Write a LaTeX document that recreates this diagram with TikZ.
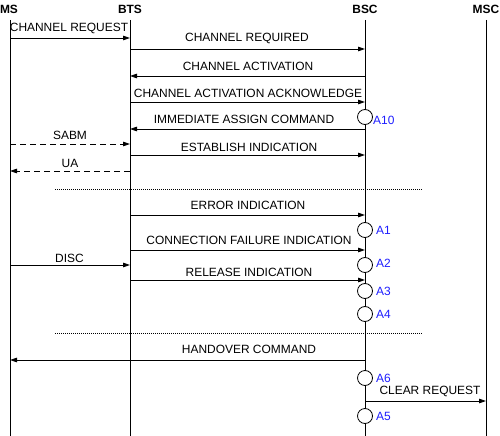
\documentclass[tikz,border=0pt]{standalone}
\usepackage{fontspec}
\setmainfont{Liberation Sans}
\usetikzlibrary{arrows.meta}
\definecolor{alabel}{RGB}{30,30,255}
\tikzset{
  lifeline/.style={line width=0.8bp, black},
  msg/.style={line width=0.8bp, black, -{Triangle[length=7bp,width=4.5bp]}},
  dmsg/.style={msg, dash pattern=on 6bp off 4bp},
  sep/.style={line width=0.6bp, dash pattern=on 1bp off 1bp},
  lbl/.style={anchor=base, inner sep=0pt, font=\fontsize{12}{14}\selectfont},
  head/.style={anchor=base, inner sep=0pt, font=\fontsize{12}{14}\selectfont\bfseries},
  stcircle/.style={circle, draw, line width=0.8bp, fill=white, minimum size=15bp, inner sep=0pt},
  alab/.style={anchor=base west, inner sep=0pt, text=alabel, font=\fontsize{12}{14}\selectfont},
}
\begin{document}
\begin{tikzpicture}[x=1bp,y=-1bp]
\useasboundingbox (0,0) rectangle (500,436);
% headers
\node[head] (hms)  at (9,13.3)   {MS};
\node[head] (hbts) at (130,13.3) {BTS};
\node[head] (hbsc) at (365,13.3) {BSC};
\node[head] (hmsc) at (486,13.3) {MSC};
% lifelines
\coordinate (msT) at (10,20);  \coordinate (msB) at (10,436);
\coordinate (btsT) at (130,20); \coordinate (btsB) at (130,436);
\coordinate (bscT) at (365,20); \coordinate (bscB) at (365,436);
\coordinate (mscT) at (486,20); \coordinate (mscB) at (486,436);
\draw[lifeline] (msT) -- (msB);
\draw[lifeline] (btsT) -- (btsB);
\draw[lifeline] (bscT) -- (bscB);
\draw[lifeline] (mscT) -- (mscB);
% messages
\draw[msg] (msT |- 0,38) -- (btsT |- 0,38);
\node[lbl] (l1) at (69,31.3) {CHANNEL REQUEST};
\draw[msg] (btsT |- 0,49) -- (bscT |- 0,49);
\node[lbl] (l2) at (247,41.3) {CHANNEL REQUIRED};
\draw[msg] (bscT |- 0,76) -- (btsT |- 0,76);
\node[lbl] (l3) at (248,70.3) {CHANNEL ACTIVATION};
\draw[msg] (btsT |- 0,102) -- (bscT |- 0,102);
\node[lbl] (l4) at (248,97.3) {CHANNEL ACTIVATION ACKNOWLEDGE};
\draw[msg] (bscT |- 0,129) -- (btsT |- 0,129);
\node[lbl] (l5) at (244,123.3) {IMMEDIATE ASSIGN COMMAND};
\draw[dmsg] (msT |- 0,144) -- (btsT |- 0,144);
\node[lbl] (l6) at (70,139.3) {SABM};
\draw[msg] (btsT |- 0,155) -- (bscT |- 0,155);
\node[lbl] (l7) at (249,151.3) {ESTABLISH INDICATION};
\draw[dmsg] (btsT |- 0,171) -- (msT |- 0,171);
\node[lbl] (l8) at (70,167.3) {UA};
% separator 1
\coordinate (s1a) at (55,189); \coordinate (s1b) at (422,189);
\draw[sep] (s1a) -- (s1b);
\draw[msg] (btsT |- 0,215) -- (bscT |- 0,215);
\node[lbl] (l9) at (248,209.3) {ERROR INDICATION};
\draw[msg] (btsT |- 0,250) -- (bscT |- 0,250);
\node[lbl] (l10) at (249,244.3) {CONNECTION FAILURE INDICATION};
\draw[msg] (msT |- 0,265) -- (btsT |- 0,265);
\node[lbl] (l11) at (69.5,262.3) {DISC};
\draw[msg] (btsT |- 0,280) -- (bscT |- 0,280);
\node[lbl] (l12) at (249,276.3) {RELEASE INDICATION};
% separator 2
\coordinate (s2a) at (55,333); \coordinate (s2b) at (422,333);
\draw[sep] (s2a) -- (s2b);
\draw[msg] (bscT |- 0,360) -- (msT |- 0,360);
\node[lbl] (l13) at (249,353.3) {HANDOVER COMMAND};
\draw[msg] (bscT |- 0,401) -- (mscT |- 0,401);
\node[lbl] (l14) at (430,394.3) {CLEAR REQUEST};
% state circles
\node[stcircle] (a10) at (365,117) {};
\node[alab] (a10l) at (373,124.3) {A10};
\node[stcircle] (a1) at (365,230) {};
\node[alab] (a1l) at (376,234.3) {A1};
\node[stcircle] (a2) at (365,265) {};
\node[alab] (a2l) at (376,267.3) {A2};
\node[stcircle] (a3) at (365,291) {};
\node[alab] (a3l) at (376,295.3) {A3};
\node[stcircle] (a4) at (365,314) {};
\node[alab] (a4l) at (376,318.3) {A4};
\node[stcircle] (a6) at (365,378) {};
\node[alab] (a6l) at (376,382.3) {A6};
\node[stcircle] (a5) at (365,416) {};
\node[alab] (a5l) at (376,420.3) {A5};
\end{tikzpicture}
\end{document}
